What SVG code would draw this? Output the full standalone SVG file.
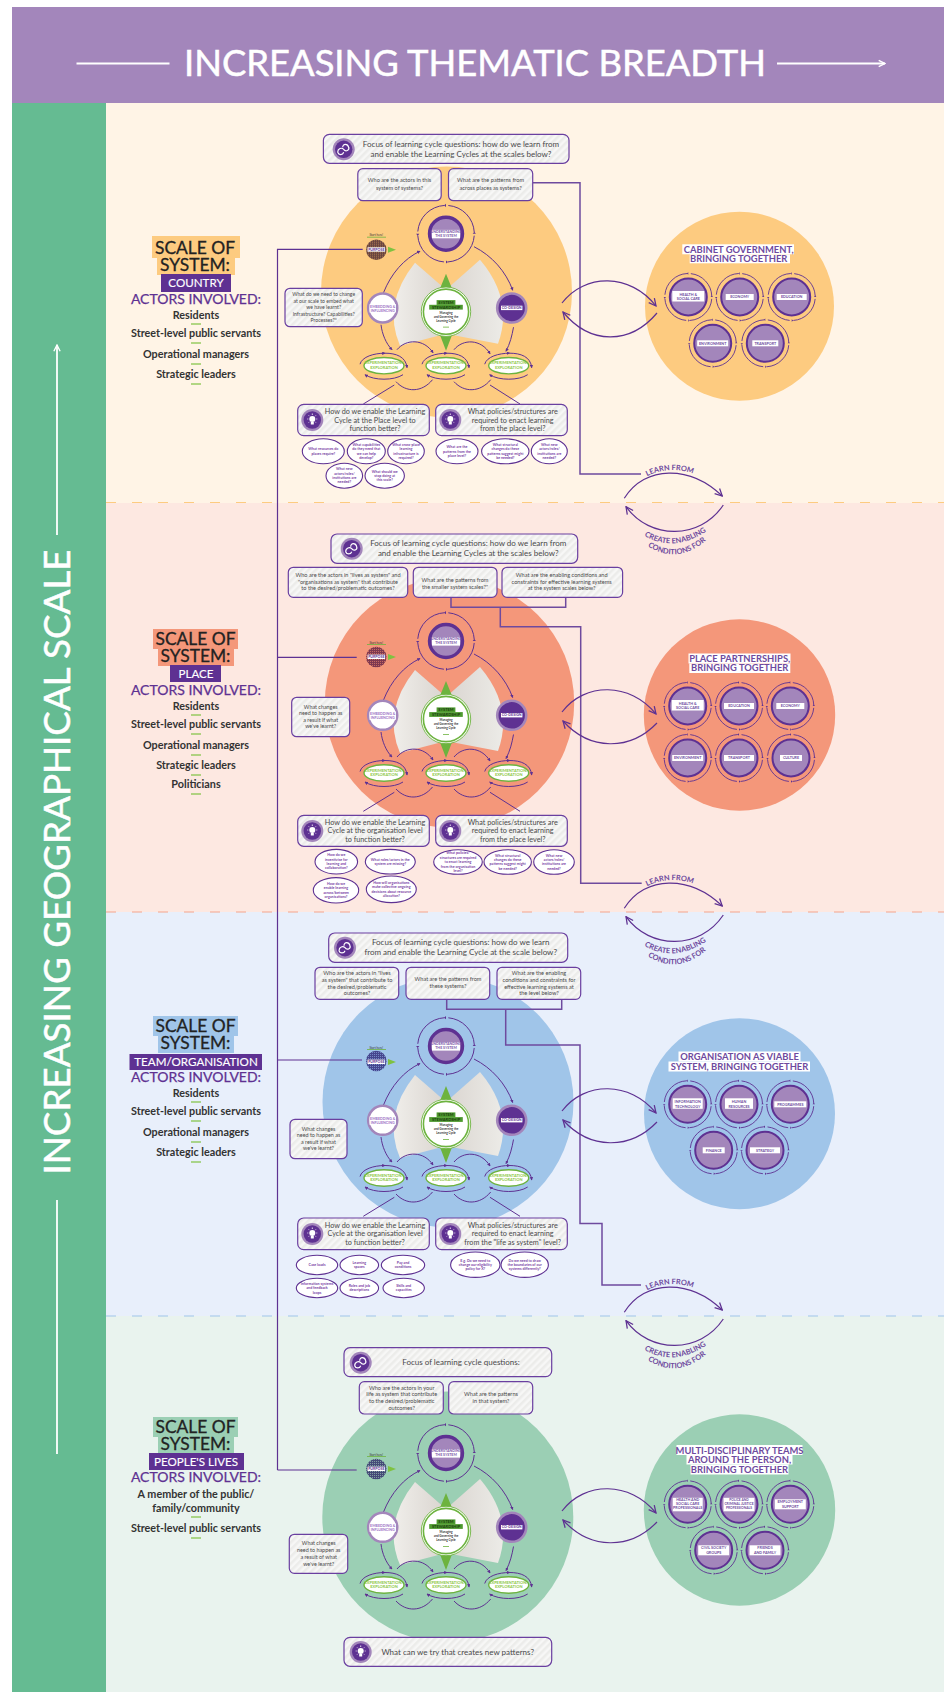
<svg xmlns="http://www.w3.org/2000/svg" width="944" height="1692" viewBox="0 0 944 1692">
<style>
text{font-family:"Lato","Noto Sans","Liberation Sans",sans-serif}
.m{text-anchor:middle}
.box{fill:url(#hatch);stroke:#6A3FA0;stroke-width:1.2}
.q{fill:#4a4a4a;text-anchor:middle}
.q8{font-size:8px}.q7{font-size:7.25px}.q6{font-size:5.6px}.q5{font-size:5.1px}.q54{font-size:5.4px}
.el ellipse{fill:#fff;stroke:#5E3192;stroke-width:1.1}
.el text{fill:#7A3FA5;font-size:3.6px;font-weight:700;text-anchor:middle}
.cn{fill:none;stroke:#5E3192;stroke-width:1.2}
.ln{fill:none;stroke:#6E4A9E;stroke-width:1.5}
.arc{fill:none;stroke:#5E3192;stroke-width:1}
.h1{font-size:17.4px;fill:#222;text-anchor:middle;stroke:#222;stroke-width:.3}
.hp{fill:#5E3192}
.h2{font-size:11.6px;fill:#fff;text-anchor:middle;stroke:#fff;stroke-width:.15}
.h3{font-size:14px;fill:#5E3192;text-anchor:middle;stroke:#5E3192;stroke-width:.25}
.act{font-size:10.8px;fill:#333;text-anchor:middle;font-weight:700}
.gd{stroke:#7FC241;stroke-width:1.2}
.rt{font-size:9.4px;font-weight:700;fill:#6E4A9E;text-anchor:middle}
.wb{fill:#fff}
.sl{font-size:3.7px;font-weight:700;fill:#6E4A9E;text-anchor:middle}
.cl{font-size:3.6px;font-weight:700;text-anchor:middle}
.ex{font-size:4px;font-weight:700;text-anchor:middle;fill:#8CC63F}
.ss{font-size:4px;font-weight:700;text-anchor:middle;fill:#1B3A10}
.lf{font-size:7.4px;fill:#6E4A9E;font-weight:700}
.hd{stroke:#fff;stroke-width:.5}
</style>
<defs>
<pattern id="hatch" patternUnits="userSpaceOnUse" width="5" height="5" patternTransform="rotate(45)"><rect width="5" height="5" fill="#F7F7F6"/><rect width="2.5" height="5" fill="#ECECEA"/></pattern>
<pattern id="p1" patternUnits="userSpaceOnUse" width="2" height="2"><rect width="2" height="2" fill="#6A4440"/><rect width="1" height="1" fill="#A87850"/></pattern>
<pattern id="p2" patternUnits="userSpaceOnUse" width="2" height="2"><rect width="2" height="2" fill="#7E3850"/><rect width="1" height="1" fill="#C46A60"/></pattern>
<pattern id="p3" patternUnits="userSpaceOnUse" width="2" height="2"><rect width="2" height="2" fill="#46468E"/><rect width="1" height="1" fill="#7388C4"/></pattern>
<pattern id="p4" patternUnits="userSpaceOnUse" width="2" height="2"><rect width="2" height="2" fill="#454A78"/><rect width="1" height="1" fill="#7F9CA0"/></pattern>
<linearGradient id="gl" x1="0" x2="1" y1="0" y2="0"><stop offset="0" stop-color="#F0EEEA"/><stop offset="1" stop-color="#D9D4CF"/></linearGradient>
<linearGradient id="gr" x1="1" x2="0" y1="0" y2="0"><stop offset="0" stop-color="#ECEBE7"/><stop offset="1" stop-color="#DAD5D0"/></linearGradient>
<marker id="oa" viewBox="0 0 10 10" refX="9" refY="5" markerWidth="9" markerHeight="9" markerUnits="userSpaceOnUse" orient="auto"><path d="M1,1 L9,5 L1,9" fill="none" stroke="#5E3192" stroke-width="1.4"/></marker>
<marker id="ta" viewBox="0 0 6 6" refX="5" refY="3" markerWidth="3.4" markerHeight="3.4" markerUnits="userSpaceOnUse" orient="auto"><path d="M0,0 L6,3 L0,6 Z" fill="#5E3192"/></marker>
<marker id="wa" viewBox="0 0 10 10" refX="9" refY="5" markerWidth="9" markerHeight="9" markerUnits="userSpaceOnUse" orient="auto"><path d="M2,1.5 L9,5 L2,8.5" fill="none" stroke="#fff" stroke-width="1.5"/></marker>
<g id="ico1"><circle r="11" fill="#A386BB"/><circle r="8.7" fill="#5E3192"/><path d="M-6,3 C-6,-1 -2,-2 0,0 C2,3 6,1 5,-2 C4,-6 -1,-6 -1,-2 M-6,3 C-5,6 -1,6 0,3" fill="none" stroke="#fff" stroke-width="1.2"/></g>
<g id="ico2"><circle r="11" fill="#A386BB"/><circle r="8.7" fill="#5E3192"/><circle cy="-1" r="3" fill="#fff"/><rect x="-1.5" y="2" width="3" height="2.5" fill="#fff"/><path d="M0,-6.5V-5M-5,-1H-4M4,-1H5M-3.6,-4.6L-2.8,-3.8M3.6,-4.6L2.8,-3.8M-3.6,2.6L-2.8,1.8M3.6,2.6L2.8,1.8" stroke="#fff" stroke-width=".8"/></g>
<g id="ring"><circle r="23.5" fill="none" stroke="#5E3192" stroke-width=".9" stroke-dasharray="33 3.9" stroke-dashoffset="-1.95"/><circle r="18.5" fill="#A386BB" stroke="#5E3192" stroke-width="2"/><path d="M23.5,-1.5l1.2,1.5h-2.4zM-23.5,1.5l-1.2,-1.5h2.4zM-1.5,-23.5l1.5,-1.2v2.4zM1.5,23.5l-1.5,1.2v-2.4z" fill="#5E3192"/></g>
<g id="exp"><ellipse rx="20" ry="8.2" fill="#fff" stroke="#6DB33F" stroke-width="1.4"/><path class="arc" marker-end="url(#ta)" d="M-24,-1.5 C-22,-9 -10,-12.5 1,-12.5"/><path class="arc" marker-end="url(#ta)" d="M1,-12.5 C12,-12.5 22,-9 23,2"/><path class="arc" marker-end="url(#ta)" d="M19,9 C10,15 -10,15 -19,9"/></g>
<g id="cycle-base">
<path d="M-31,-49 L0,-22 L0,22 L-46,34 Q-64,-8 -31,-49Z" fill="url(#gl)"/>
<path d="M34,-52 L0,-22 L0,22 L52,32 Q68,-12 34,-52Z" fill="url(#gr)"/>
<path d="M0,-38 L-6.5,-22 H6.5Z M0,39 L-6.5,22 H6.5Z" fill="#6DB33F"/>
<path class="arc" marker-end="url(#ta)" d="M-62.5,-19 C-55,-38 -42,-53 -26,-60.5"/>
<path class="arc" marker-end="url(#ta)" d="M28,-65 C46,-56 60,-40 66.7,-21.5"/>
<path class="arc" marker-end="url(#ta)" d="M-65,13 C-64,22 -60,32 -54,38"/>
<path class="arc" marker-end="url(#ta)" d="M67.5,15.5 C66,24 64,32 60,39.5"/>
<path class="arc" marker-end="url(#ta)" d="M-49,38 C-40,27 -22,27 -13,41"/>
<path class="arc" marker-end="url(#ta)" d="M8,38 C17,27 35,27 44,42"/>
<path class="arc" d="M-50,70 C-40,81 -24,81 -13.5,68"/>
<path class="arc" d="M8,70 C18,81 34,81 44.7,68"/>
<g transform="translate(0,-78)"><circle r="28.3" fill="none" stroke="#5E3192" stroke-width="1" stroke-dasharray="40.5 4" stroke-dashoffset="-2"/><circle r="16.5" fill="#A386BB" stroke="#5E3192" stroke-width="3.4"/><path d="M28.3,-2l1.6,2h-3.2zM-28.3,2l-1.6,-2h3.2zM-2,-28.3l2,-1.6v3.2zM2,28.3l-2,1.6v-3.2z" fill="#5E3192"/></g>
<circle cx="-63.3" cy="-3.7" r="14.5" fill="#fff" stroke="#A386BB" stroke-width="2.6"/>
<circle cx="65.7" cy="-3.7" r="14.5" fill="#5E3192" stroke="#A386BB" stroke-width="2.6"/>
<use href="#exp" x="-62" y="54"/><use href="#exp" x="0" y="54"/><use href="#exp" x="62.7" y="54"/>
<circle r="24.7" fill="#fff" stroke="#6DB33F" stroke-width=".9"/><circle r="22.6" fill="#fff" stroke="#6DB33F" stroke-width="1.6"/>
<rect x="-9.4" y="-11.6" width="18.8" height="4.8" fill="#4E9A2F"/><rect x="-16.8" y="-6.9" width="33.6" height="4.8" fill="#4E9A2F"/>
<rect x="-14" y="-81.8" width="28" height="8.4" class="wb"/>
<rect x="-76.5" y="-7.6" width="26.4" height="8.4" class="wb"/>
<rect x="55" y="-6" width="21.4" height="4.4" class="wb"/>
<rect x="-3" y="15" width="6" height=".8" fill="#6DB33F"/>
</g>
<g id="cycle-top"><path d="M-79,-74.5 H-60" stroke="#6DB33F" stroke-width=".8"/><path d="M-58,-65 L-50,-62 L-58,-59Z" fill="#7FC241"/><rect x="-78.5" y="-64.4" width="17.6" height="4.4" class="wb"/></g>
<path id="lf" d="M640,480 Q673,460 706,480"/>
<path id="ce1" d="M640,533 Q676,557.500 716,524"/>
<path id="ce2" d="M646,545 Q678,567 710,537"/>
</defs>

<g id="background">
<rect width="944" height="1692" fill="#fff"/>
<rect x="106" y="103" width="838" height="400" fill="#FFF4E6"/>
<rect x="106" y="503" width="838" height="409" fill="#FDE8E1"/>
<rect x="106" y="912" width="838" height="404" fill="#E8EFFB"/>
<rect x="106" y="1316" width="838" height="376" fill="#E9F3EE"/>
<path d="M106,502.5H944" stroke="#FDCB80" stroke-width="1" stroke-dasharray="10 16"/>
<path d="M106,912H944" stroke="#F4A58C" stroke-width="1" stroke-dasharray="10 16"/>
<path d="M106,1316H944" stroke="#A0C5E9" stroke-width="1" stroke-dasharray="10 16"/>
<rect x="12" y="103" width="94" height="1589" fill="#65BB92"/>
<rect x="12" y="7" width="932" height="96" fill="#A386BB"/>
</g>

<g id="header-thematic">
<path d="M76.5,63.5H169.5" stroke="#fff" stroke-width="1.8"/>
<text x="475" y="76" class="m hd" font-size="36" fill="#fff" textLength="582" lengthAdjust="spacingAndGlyphs">INCREASING THEMATIC BREADTH</text>
<path d="M777,63.5H885" stroke="#fff" stroke-width="1.8" marker-end="url(#wa)"/>
</g>
<g id="header-geographical">
<path d="M57,1454V1200M57,535V345" stroke="#fff" stroke-width="1.8" marker-end="url(#wa)"/>
<text transform="translate(70,862) rotate(-90)" class="m hd" font-size="36" fill="#fff" textLength="625" lengthAdjust="spacingAndGlyphs">INCREASING GEOGRAPHICAL SCALE</text>
</g>

<g id="big-circles">
<circle cx="446.5" cy="292" r="125.5" fill="#FDCB80"/>
<circle cx="449.5" cy="703" r="124.7" fill="#F4977A"/>
<circle cx="448" cy="1102" r="125.5" fill="#A0C5E9"/>
<circle cx="447.8" cy="1517" r="125.5" fill="#9BCFB4"/>
<circle cx="739.5" cy="306.3" r="94.5" fill="#FDCB80"/>
<circle cx="739.5" cy="715" r="95.7" fill="#F4977A"/>
<circle cx="739.5" cy="1113.7" r="95.5" fill="#A0C5E9"/>
<circle cx="739.5" cy="1510" r="95.7" fill="#9BCFB4"/>
</g>

<g id="connectors">
<path class="cn" d="M277.5,1470V249.3H362.7M277.5,657.3H356.7M277.5,1060H362M277.5,1470H356.7"/>
<path class="ln" d="M533,182.7H580V474H641"/>
<path class="ln" d="M451,597.3V607.3H565.7V597.3M500.3,607.3V626.7H580.7V883.3H641.7"/>
<path class="ln" d="M446.7,999.3V1009.3H561.7V999.3M505.7,1009.3V1045H580V1223.5H602V1285H641"/>
<g id="two-way-country"><path class="cn" marker-end="url(#oa)" d="M562,303 C585,273 630,273 656,306"/><path class="cn" marker-end="url(#oa)" d="M657,313 C630,345 590,345 563,312"/></g>
<g id="two-way-place"><path class="cn" marker-end="url(#oa)" d="M562,712 C585,682 630,682 656,714"/><path class="cn" marker-end="url(#oa)" d="M657,723 C630,751 590,751 563,721"/></g>
<g id="two-way-team"><path class="cn" marker-end="url(#oa)" d="M562,1111 C585,1081 630,1081 656,1113"/><path class="cn" marker-end="url(#oa)" d="M657,1122 C630,1150 590,1150 563,1120"/></g>
<g id="two-way-people"><path class="cn" marker-end="url(#oa)" d="M562,1511 C585,1481 630,1481 656,1513"/><path class="cn" marker-end="url(#oa)" d="M657,1522 C630,1550 590,1550 563,1520"/></g>
<g id="learn-country"><path class="cn" marker-end="url(#oa)" d="M624.3,498.3 C645,465 690,465 722.3,496"/><path class="cn" marker-end="url(#oa)" d="M723.3,505 C700,540 650,540 626,506.7"/></g>
<g id="learn-place" transform="translate(0,410)"><path class="cn" marker-end="url(#oa)" d="M624.3,498.3 C645,465 690,465 722.3,496"/><path class="cn" marker-end="url(#oa)" d="M723.3,505 C700,540 650,540 626,506.7"/></g>
<g id="learn-team" transform="translate(0,814)"><path class="cn" marker-end="url(#oa)" d="M624.3,498.3 C645,465 690,465 722.3,496"/><path class="cn" marker-end="url(#oa)" d="M723.3,505 C700,540 650,540 626,506.7"/></g>
<g id="labels-country"><text class="lf"><textPath href="#lf" startOffset="8">LEARN FROM</textPath></text><text class="lf"><textPath href="#ce1" startOffset="5">CREATE ENABLING</textPath></text><text class="lf"><textPath href="#ce2" startOffset="2">CONDITIONS FOR</textPath></text></g>
<g id="labels-place" transform="translate(0,410)"><text class="lf"><textPath href="#lf" startOffset="8">LEARN FROM</textPath></text><text class="lf"><textPath href="#ce1" startOffset="5">CREATE ENABLING</textPath></text><text class="lf"><textPath href="#ce2" startOffset="2">CONDITIONS FOR</textPath></text></g>
<g id="labels-team" transform="translate(0,814)"><text class="lf"><textPath href="#lf" startOffset="8">LEARN FROM</textPath></text><text class="lf"><textPath href="#ce1" startOffset="5">CREATE ENABLING</textPath></text><text class="lf"><textPath href="#ce2" startOffset="2">CONDITIONS FOR</textPath></text></g>
</g>

<g id="scale-country">
<rect x="152" y="236" width="88" height="22" fill="#FDCB80"/><rect x="157" y="258" width="78" height="17" fill="#FDCB80"/>
<text x="195" y="254" class="h1">SCALE OF</text><text x="195" y="271" class="h1">SYSTEM:</text>
<rect x="161" y="274" width="70" height="18" class="hp"/><text x="196" y="287" class="h2">COUNTRY</text>
<text x="196" y="304" class="h3">ACTORS INVOLVED:</text>
<text x="196" y="319" class="act">Residents</text><path class="gd" d="M191,324H201"/>
<text x="196" y="337" class="act">Street-level public servants</text><path class="gd" d="M191,343H201"/>
<text x="196" y="358" class="act">Operational managers</text><path class="gd" d="M191,364H201"/>
<text x="196" y="378" class="act">Strategic leaders</text><path class="gd" d="M191,384H201"/>
</g>
<g id="scale-place">
<rect x="153" y="629" width="85" height="20" fill="#F4977A"/><rect x="158" y="649" width="76" height="17" fill="#F4977A"/>
<text x="195.500" y="645" class="h1">SCALE OF</text><text x="195.500" y="662" class="h1">SYSTEM:</text>
<rect x="170" y="665" width="51" height="17" class="hp"/><text x="196" y="678" class="h2">PLACE</text>
<text x="196" y="695" class="h3">ACTORS INVOLVED:</text>
<text x="196" y="710" class="act">Residents</text><path class="gd" d="M191,715H201"/>
<text x="196" y="728" class="act">Street-level public servants</text><path class="gd" d="M191,734H201"/>
<text x="196" y="749" class="act">Operational managers</text><path class="gd" d="M191,755H201"/>
<text x="196" y="769" class="act">Strategic leaders</text><path class="gd" d="M191,775H201"/>
<text x="196" y="788" class="act">Politicians</text><path class="gd" d="M191,794H201"/>
</g>
<g id="scale-team">
<rect x="153" y="1016" width="85" height="20" fill="#A0C5E9"/><rect x="158" y="1036" width="76" height="17" fill="#A0C5E9"/>
<text x="195.500" y="1032" class="h1">SCALE OF</text><text x="195.500" y="1049" class="h1">SYSTEM:</text>
<rect x="129.500" y="1054" width="132.500" height="16" class="hp"/><text x="196" y="1066" class="h2">TEAM/ORGANISATION</text>
<text x="196" y="1082" class="h3">ACTORS INVOLVED:</text>
<text x="196" y="1097" class="act">Residents</text><path class="gd" d="M191,1102H201"/>
<text x="196" y="1115" class="act">Street-level public servants</text><path class="gd" d="M191,1121H201"/>
<text x="196" y="1136" class="act">Operational managers</text><path class="gd" d="M191,1142H201"/>
<text x="196" y="1156" class="act">Strategic leaders</text><path class="gd" d="M191,1162H201"/>
</g>
<g id="scale-people">
<rect x="153" y="1417" width="85" height="20" fill="#9BCFB4"/><rect x="158" y="1437" width="76" height="17" fill="#9BCFB4"/>
<text x="195.500" y="1433" class="h1">SCALE OF</text><text x="195.500" y="1450" class="h1">SYSTEM:</text>
<rect x="149" y="1453" width="95" height="17" class="hp"/><text x="196" y="1466" class="h2">PEOPLE'S LIVES</text>
<text x="196" y="1482" class="h3">ACTORS INVOLVED:</text>
<text x="196" y="1498" class="act">A member of the public/</text>
<text x="196" y="1512" class="act">family/community</text><path class="gd" d="M191,1517H201"/>
<text x="196" y="1532" class="act">Street-level public servants</text><path class="gd" d="M191,1538H201"/>
</g>

<g id="cycle-country" transform="translate(446,311.7)"><path class="arc" d="M-51.7,73.3 L-82.7,92.3 M44,73.3 L74,92.3"/><use href="#cycle-base"/><circle cx="-69.700" cy="-62" r="10.300" fill="url(#p1)"/><use href="#cycle-top"/>
<text x="-69.700" y="-75.500" class="m" font-size="3" fill="#333">Start here!</text><text x="-69.700" y="-60.900" class="cl" fill="#5E3192">PURPOSE</text>
<text y="-78.800" class="cl" fill="#7A55A8"><tspan x="0">UNDERSTANDING</tspan><tspan x="0" y="-74.800">THE SYSTEM</tspan></text>
<text y="-3.800" class="cl" fill="#9C72C5"><tspan x="-63.300">EMBEDDING &amp;</tspan><tspan x="-63.300" y="0">INFLUENCING</tspan></text>
<text x="65.700" y="-2.600" class="cl" fill="#5E3192">CO-DESIGN</text>
<text y="52.700" class="ex"><tspan x="-62">EXPERIMENTATION/</tspan><tspan x="-62" y="56.900">EXPLORATION</tspan></text>
<text y="52.700" class="ex"><tspan x="0">EXPERIMENTATION/</tspan><tspan x="0" y="56.900">EXPLORATION</tspan></text>
<text y="52.700" class="ex"><tspan x="62.700">EXPERIMENTATION/</tspan><tspan x="62.700" y="56.900">EXPLORATION</tspan></text>
<text y="-7.900" class="ss"><tspan x="0">SYSTEM</tspan><tspan x="0" y="-3.100">STEWARDSHIP</tspan></text>
<text y="2.300" class="m" font-size="3" fill="#333" font-weight="700"><tspan x="0">Managing</tspan><tspan x="0" y="6.300">and Governing the</tspan><tspan x="0" y="10.300">Learning Cycle</tspan></text></g>

<g id="cycle-place" transform="translate(446,719)"><path class="arc" d="M-51.7,73.3 L-82.7,92.3 M44,73.3 L74,92.3"/><use href="#cycle-base"/><circle cx="-69.700" cy="-62" r="10.300" fill="url(#p2)"/><use href="#cycle-top"/>
<text x="-69.700" y="-75.500" class="m" font-size="3" fill="#333">Start here!</text><text x="-69.700" y="-60.900" class="cl" fill="#5E3192">PURPOSE</text>
<text y="-78.800" class="cl" fill="#7A55A8"><tspan x="0">UNDERSTANDING</tspan><tspan x="0" y="-74.800">THE SYSTEM</tspan></text>
<text y="-3.800" class="cl" fill="#9C72C5"><tspan x="-63.300">EMBEDDING &amp;</tspan><tspan x="-63.300" y="0">INFLUENCING</tspan></text>
<text x="65.700" y="-2.600" class="cl" fill="#5E3192">CO-DESIGN</text>
<text y="52.700" class="ex"><tspan x="-62">EXPERIMENTATION/</tspan><tspan x="-62" y="56.900">EXPLORATION</tspan></text>
<text y="52.700" class="ex"><tspan x="0">EXPERIMENTATION/</tspan><tspan x="0" y="56.900">EXPLORATION</tspan></text>
<text y="52.700" class="ex"><tspan x="62.700">EXPERIMENTATION/</tspan><tspan x="62.700" y="56.900">EXPLORATION</tspan></text>
<text y="-7.900" class="ss"><tspan x="0">SYSTEM</tspan><tspan x="0" y="-3.100">STEWARDSHIP</tspan></text>
<text y="2.300" class="m" font-size="3" fill="#333" font-weight="700"><tspan x="0">Managing</tspan><tspan x="0" y="6.300">and Governing the</tspan><tspan x="0" y="10.300">Learning Cycle</tspan></text></g>

<g id="cycle-team" transform="translate(446,1124)"><path class="arc" d="M-51.7,73.3 L-82.7,92.3 M44,73.3 L74,92.3"/><use href="#cycle-base"/><circle cx="-69.700" cy="-63" r="10.300" fill="url(#p3)"/><use href="#cycle-top"/>
<text x="-69.700" y="-75.500" class="m" font-size="3" fill="#333">Start here!</text><text x="-69.700" y="-60.900" class="cl" fill="#5E3192">PURPOSE</text>
<text y="-78.800" class="cl" fill="#7A55A8"><tspan x="0">UNDERSTANDING</tspan><tspan x="0" y="-74.800">THE SYSTEM</tspan></text>
<text y="-3.800" class="cl" fill="#9C72C5"><tspan x="-63.300">EMBEDDING &amp;</tspan><tspan x="-63.300" y="0">INFLUENCING</tspan></text>
<text x="65.700" y="-2.600" class="cl" fill="#5E3192">CO-DESIGN</text>
<text y="52.700" class="ex"><tspan x="-62">EXPERIMENTATION/</tspan><tspan x="-62" y="56.900">EXPLORATION</tspan></text>
<text y="52.700" class="ex"><tspan x="0">EXPERIMENTATION/</tspan><tspan x="0" y="56.900">EXPLORATION</tspan></text>
<text y="52.700" class="ex"><tspan x="62.700">EXPERIMENTATION/</tspan><tspan x="62.700" y="56.900">EXPLORATION</tspan></text>
<text y="-7.900" class="ss"><tspan x="0">SYSTEM</tspan><tspan x="0" y="-3.100">STEWARDSHIP</tspan></text>
<text y="2.300" class="m" font-size="3" fill="#333" font-weight="700"><tspan x="0">Managing</tspan><tspan x="0" y="6.300">and Governing the</tspan><tspan x="0" y="10.300">Learning Cycle</tspan></text></g>

<g id="cycle-people" transform="translate(446,1531)"><use href="#cycle-base"/><circle cx="-69.700" cy="-62" r="10.300" fill="url(#p4)"/><use href="#cycle-top"/>
<text x="-69.700" y="-75.500" class="m" font-size="3" fill="#333">Start here!</text><text x="-69.700" y="-60.900" class="cl" fill="#5E3192">PURPOSE</text>
<text y="-78.800" class="cl" fill="#7A55A8"><tspan x="0">UNDERSTANDING</tspan><tspan x="0" y="-74.800">THE SYSTEM</tspan></text>
<text y="-3.800" class="cl" fill="#9C72C5"><tspan x="-63.300">EMBEDDING &amp;</tspan><tspan x="-63.300" y="0">INFLUENCING</tspan></text>
<text x="65.700" y="-2.600" class="cl" fill="#5E3192">CO-DESIGN</text>
<text y="52.700" class="ex"><tspan x="-62">EXPERIMENTATION/</tspan><tspan x="-62" y="56.900">EXPLORATION</tspan></text>
<text y="52.700" class="ex"><tspan x="0">EXPERIMENTATION/</tspan><tspan x="0" y="56.900">EXPLORATION</tspan></text>
<text y="52.700" class="ex"><tspan x="62.700">EXPERIMENTATION/</tspan><tspan x="62.700" y="56.900">EXPLORATION</tspan></text>
<text y="-7.900" class="ss"><tspan x="0">SYSTEM</tspan><tspan x="0" y="-3.100">STEWARDSHIP</tspan></text>
<text y="2.300" class="m" font-size="3" fill="#333" font-weight="700"><tspan x="0">Managing</tspan><tspan x="0" y="6.300">and Governing the</tspan><tspan x="0" y="10.300">Learning Cycle</tspan></text></g>

<g id="team-country">
<rect x="682.300" y="244.300" width="111.700" height="10" class="wb"/><rect x="689.700" y="254.300" width="100.300" height="9" class="wb"/>
<text x="738.700" y="253" class="rt">CABINET GOVERNMENT,</text><text x="738.700" y="262.300" class="rt">BRINGING TOGETHER</text>
<g transform="translate(688.300,297)"><use href="#ring"/><rect x="-16" y="-6" width="32" height="10.500" class="wb"/><text class="sl" y="-1.200"><tspan x="0">HEALTH &amp;</tspan><tspan x="0" y="3.200">SOCIAL CARE</tspan></text></g>
<g transform="translate(739.700,297)"><use href="#ring"/><rect x="-14" y="-3" width="28" height="6" class="wb"/><text class="sl" y="1.300">ECONOMY</text></g>
<g transform="translate(791.700,297)"><use href="#ring"/><rect x="-15" y="-3" width="30" height="6" class="wb"/><text class="sl" y="1.300">EDUCATION</text></g>
<g transform="translate(712.700,343.300)"><use href="#ring"/><rect x="-15.500" y="-3" width="31" height="6" class="wb"/><text class="sl" y="1.300">ENVIRONMENT</text></g>
<g transform="translate(765.300,343.300)"><use href="#ring"/><rect x="-13" y="-3" width="26" height="6" class="wb"/><text class="sl" y="1.300">TRANSPORT</text></g>
</g>
<g id="team-place">
<rect x="688.500" y="653.500" width="102" height="10" class="wb"/><rect x="689.300" y="663.500" width="101" height="9.500" class="wb"/>
<text x="739.700" y="662.300" class="rt">PLACE PARTNERSHIPS,</text><text x="739.700" y="671.300" class="rt">BRINGING TOGETHER</text>
<g transform="translate(687.700,706)"><use href="#ring"/><rect x="-16" y="-6" width="32" height="10.500" class="wb"/><text class="sl" y="-1.200"><tspan x="0">HEALTH &amp;</tspan><tspan x="0" y="3.200">SOCIAL CARE</tspan></text></g>
<g transform="translate(739,706)"><use href="#ring"/><rect x="-15" y="-3" width="30" height="6" class="wb"/><text class="sl" y="1.300">EDUCATION</text></g>
<g transform="translate(790.300,706)"><use href="#ring"/><rect x="-14" y="-3" width="28" height="6" class="wb"/><text class="sl" y="1.300">ECONOMY</text></g>
<g transform="translate(687.700,758)"><use href="#ring"/><rect x="-15.500" y="-3" width="31" height="6" class="wb"/><text class="sl" y="1.300">ENVIRONMENT</text></g>
<g transform="translate(739,758)"><use href="#ring"/><rect x="-15" y="-3" width="30" height="6" class="wb"/><text class="sl" y="1.300">TRANSPORT</text></g>
<g transform="translate(791,758)"><use href="#ring"/><rect x="-11" y="-3" width="22" height="6" class="wb"/><text class="sl" y="1.300">CULTURE</text></g>
</g>
<g id="team-team">
<rect x="678.500" y="1051.500" width="122" height="10" class="wb"/><rect x="668.500" y="1061.500" width="141.500" height="10" class="wb"/>
<text x="739.500" y="1060" class="rt">ORGANISATION AS VIABLE</text><text x="739.500" y="1070" class="rt">SYSTEM, BRINGING TOGETHER</text>
<g transform="translate(687.700,1104.300)"><use href="#ring"/><rect x="-15" y="-6" width="30" height="10.500" class="wb"/><text class="sl" y="-1.200"><tspan x="0">INFORMATION</tspan><tspan x="0" y="3.200">TECHNOLOGY</tspan></text></g>
<g transform="translate(739,1104.300)"><use href="#ring"/><rect x="-14" y="-6" width="28" height="10.500" class="wb"/><text class="sl" y="-1.200"><tspan x="0">HUMAN</tspan><tspan x="0" y="3.200">RESOURCES</tspan></text></g>
<g transform="translate(790.300,1104.300)"><use href="#ring"/><rect x="-16" y="-3" width="32" height="6" class="wb"/><text class="sl" y="1.300">PROGRAMMES</text></g>
<g transform="translate(713.700,1150.300)"><use href="#ring"/><rect x="-11" y="-3" width="22" height="6" class="wb"/><text class="sl" y="1.300">FINANCE</text></g>
<g transform="translate(765,1150.300)"><use href="#ring"/><rect x="-15" y="-3" width="30" height="6" class="wb"/><text class="sl" y="1.300">STRATEGY</text></g>
</g>
<g id="team-people">
<rect x="676.500" y="1445" width="126" height="10" class="wb"/><rect x="686.500" y="1455" width="106" height="9.500" class="wb"/><rect x="690.500" y="1464.500" width="98" height="10" class="wb"/>
<text x="739.500" y="1454" class="rt">MULTI-DISCIPLINARY TEAMS</text><text x="739.500" y="1463.300" class="rt">AROUND THE PERSON,</text><text x="739.500" y="1473" class="rt">BRINGING TOGETHER</text>
<g transform="translate(687.700,1504.300)"><use href="#ring"/><rect x="-15" y="-6.500" width="30" height="13.500" class="wb"/><text class="sl" y="-3"><tspan x="0">HEALTH AND</tspan><tspan x="0" y="1">SOCIAL CARE</tspan><tspan x="0" y="5">PROFESSIONALS</tspan></text></g>
<g transform="translate(739,1504.300)"><use href="#ring"/><rect x="-15.500" y="-6.500" width="31" height="13.500" class="wb"/><text class="sl" y="-3" style="font-size:3.3px"><tspan x="0">POLICE AND</tspan><tspan x="0" y="1">CRIMINAL JUSTICE</tspan><tspan x="0" y="5">PROFESSIONALS</tspan></text></g>
<g transform="translate(790.300,1504.300)"><use href="#ring"/><rect x="-15.500" y="-5" width="31" height="10" class="wb"/><text class="sl" y="-1"><tspan x="0">EMPLOYMENT</tspan><tspan x="0" y="3.400">SUPPORT</tspan></text></g>
<g transform="translate(713.700,1550.300)"><use href="#ring"/><rect x="-15.500" y="-5" width="31" height="10" class="wb"/><text class="sl" y="-1"><tspan x="0">CIVIL SOCIETY</tspan><tspan x="0" y="3.400">GROUPS</tspan></text></g>
<g transform="translate(765,1550.300)"><use href="#ring"/><rect x="-15.500" y="-5" width="31" height="10" class="wb"/><text class="sl" y="-1"><tspan x="0">FRIENDS</tspan><tspan x="0" y="3.400">AND FAMILY</tspan></text></g>
</g>

<g id="focus-country"><rect x="323.400" y="134.300" width="245.600" height="29" rx="6" class="box"/><use href="#ico1" x="343.700" y="149.300"/>
<text class="q q8"><tspan x="461" y="146.700">Focus of learning cycle questions: how do we learn from</tspan><tspan x="461" y="156.700">and enable the Learning Cycles at the scales below?</tspan></text></g>
<g id="q-country-1"><rect x="357.800" y="168.700" width="83.400" height="32" rx="5" class="box"/><text class="q q6"><tspan x="399.500" y="182.300">Who are the actors in this</tspan><tspan x="399.500" y="189.700">system of systems?</tspan></text></g>
<g id="q-country-2"><rect x="448.500" y="168.700" width="84.200" height="32" rx="5" class="box"/><text class="q q6"><tspan x="490.600" y="182.300">What are the patterns from</tspan><tspan x="490.600" y="189.700">across places as systems?</tspan></text></g>
<g id="change-country"><rect x="285" y="288.300" width="77.300" height="38.400" rx="5" class="box"/><text class="q q5"><tspan x="323.700" y="296.300">What do we need to change</tspan><tspan x="323.700" y="302.700">at our scale to embed what</tspan><tspan x="323.700" y="309.300">we have learnt?</tspan><tspan x="323.700" y="315.700">Infrastructure? Capabilities?</tspan><tspan x="323.700" y="321.700">Processes?*</tspan></text></g>
<g id="enable-country"><rect x="297.700" y="404.300" width="131.600" height="31.400" rx="6" class="box"/><use href="#ico2" x="312.300" y="420"/><text class="q q7"><tspan x="375" y="414">How do we enable the Learning</tspan><tspan x="375" y="422.700">Cycle at the Place level to</tspan><tspan x="375" y="431">function better?</tspan></text></g>
<g id="policy-country"><rect x="435.700" y="404.300" width="131.600" height="31.400" rx="6" class="box"/><use href="#ico2" x="450.300" y="420"/><text class="q q7"><tspan x="512.700" y="414">What policies/structures are</tspan><tspan x="512.700" y="422.700">required to enact learning</tspan><tspan x="512.700" y="431">from the place level?</tspan></text></g>
<g id="ellipses-country" class="el">
<g transform="translate(323.300,451.300)"><ellipse rx="21" ry="12.500"/><text><tspan x="0" y="-1">What resources do</tspan><tspan x="0" y="3.400">places require?</tspan></text></g>
<g transform="translate(366.300,451.300)"><ellipse rx="19" ry="12.500"/><text><tspan x="0" y="-5.400">What capabilities</tspan><tspan x="0" y="-1">do they need that</tspan><tspan x="0" y="3.400">we can help</tspan><tspan x="0" y="7.800">develop?</tspan></text></g>
<g transform="translate(406,451.300)"><ellipse rx="18.300" ry="12.500"/><text><tspan x="0" y="-5.400">What cross-place</tspan><tspan x="0" y="-1">learning</tspan><tspan x="0" y="3.400">infrastructure is</tspan><tspan x="0" y="7.800">required?</tspan></text></g>
<g transform="translate(344.300,475.700)"><ellipse rx="18.300" ry="12.500"/><text><tspan x="0" y="-5.400">What new</tspan><tspan x="0" y="-1">actors/roles/</tspan><tspan x="0" y="3.400">institutions are</tspan><tspan x="0" y="7.800">needed?</tspan></text></g>
<g transform="translate(384.700,475.700)"><ellipse rx="19.700" ry="12.500"/><text><tspan x="0" y="-3.200">What should we</tspan><tspan x="0" y="1.200">stop doing at</tspan><tspan x="0" y="5.600">this scale?</tspan></text></g>
<g transform="translate(457,451.300)"><ellipse rx="21" ry="12.500"/><text><tspan x="0" y="-3.200">What are the</tspan><tspan x="0" y="1.200">patterns from the</tspan><tspan x="0" y="5.600">place level?</tspan></text></g>
<g transform="translate(505.300,451.300)"><ellipse rx="23.700" ry="12.500"/><text><tspan x="0" y="-5.400">What structural</tspan><tspan x="0" y="-1">changes do these</tspan><tspan x="0" y="3.400">patterns suggest might</tspan><tspan x="0" y="7.800">be needed?</tspan></text></g>
<g transform="translate(549.300,451.300)"><ellipse rx="18" ry="12.500"/><text><tspan x="0" y="-5.400">What new</tspan><tspan x="0" y="-1">actors/roles/</tspan><tspan x="0" y="3.400">institutions are</tspan><tspan x="0" y="7.800">needed?</tspan></text></g>
</g>

<g id="focus-place"><rect x="331" y="534" width="246.700" height="29.300" rx="6" class="box"/><use href="#ico1" x="351.700" y="548.700"/>
<text class="q q8"><tspan x="468.300" y="546">Focus of learning cycle questions: how do we learn from</tspan><tspan x="468.300" y="556">and enable the Learning Cycles at the scales below?</tspan></text></g>
<g id="q-place-1"><rect x="288.300" y="567.300" width="119.400" height="30" rx="5" class="box"/><text class="q q6"><tspan x="348" y="576.700">Who are the actors in "lives as system" and</tspan><tspan x="348" y="583.700">"organisations as system" that contribute</tspan><tspan x="348" y="589.700">to the desired/problematic outcomes?</tspan></text></g>
<g id="q-place-2"><rect x="413.300" y="567.300" width="83.700" height="30" rx="5" class="box"/><text class="q q6"><tspan x="455" y="581.700">What are the patterns from</tspan><tspan x="455" y="588.700">the smaller system scales?"</tspan></text></g>
<g id="q-place-3"><rect x="502" y="567.300" width="120.600" height="30" rx="5" class="box"/><text class="q q6"><tspan x="561.700" y="576.700">What are the enabling conditions and</tspan><tspan x="561.700" y="583.700">constraints for effective learning systems</tspan><tspan x="561.700" y="589.700">at the system scales below?</tspan></text></g>
<g id="change-place"><rect x="291.700" y="697.300" width="58" height="39.400" rx="5" class="box"/><text class="q q54"><tspan x="320.700" y="708.700">What changes</tspan><tspan x="320.700" y="714.700">need to happen as</tspan><tspan x="320.700" y="721.700">a result if what</tspan><tspan x="320.700" y="728.300">we've learnt?</tspan></text></g>
<g id="enable-place"><rect x="297.700" y="815.300" width="131.600" height="31" rx="6" class="box"/><use href="#ico2" x="312.300" y="831"/><text class="q q7"><tspan x="375" y="825">How do we enable the Learning</tspan><tspan x="375" y="833.300">Cycle at the organisation level</tspan><tspan x="375" y="841.700">to function better?</tspan></text></g>
<g id="policy-place"><rect x="435.700" y="815.300" width="131.600" height="31" rx="6" class="box"/><use href="#ico2" x="450.300" y="831"/><text class="q q7"><tspan x="512.700" y="825">What policies/structures are</tspan><tspan x="512.700" y="833.300">required to enact learning</tspan><tspan x="512.700" y="841.700">from the place level?</tspan></text></g>
<g id="ellipses-place" class="el">
<g transform="translate(336.300,861.700)"><ellipse rx="21.300" ry="12.300"/><text><tspan x="0" y="-5.400">How do we</tspan><tspan x="0" y="-1">incentivise for</tspan><tspan x="0" y="3.400">learning and</tspan><tspan x="0" y="7.800">collaboration?</tspan></text></g>
<g transform="translate(390.300,861.700)"><ellipse rx="25" ry="12.300"/><text><tspan x="0" y="-1">What roles/actors in the</tspan><tspan x="0" y="3.400">system are missing?</tspan></text></g>
<g transform="translate(336,890.300)"><ellipse rx="22.700" ry="12.700"/><text><tspan x="0" y="-5.400">How do we</tspan><tspan x="0" y="-1">enable learning</tspan><tspan x="0" y="3.400">across/between</tspan><tspan x="0" y="7.800">organisations?</tspan></text></g>
<g transform="translate(391.300,889.300)"><ellipse rx="25" ry="13.300"/><text><tspan x="0" y="-5.400">How will organisations</tspan><tspan x="0" y="-1">make collective ongoing</tspan><tspan x="0" y="3.400">decisions about resource</tspan><tspan x="0" y="7.800">allocation?</tspan></text></g>
<g transform="translate(458,862)"><ellipse rx="24.300" ry="12.300"/><text><tspan x="0" y="-7.600">What policies/</tspan><tspan x="0" y="-3.200">structures are required</tspan><tspan x="0" y="1.200">to enact learning</tspan><tspan x="0" y="5.600">from the organisation</tspan><tspan x="0" y="10">level?</tspan></text></g>
<g transform="translate(507.700,862)"><ellipse rx="23.700" ry="12.300"/><text><tspan x="0" y="-5.400">What structural</tspan><tspan x="0" y="-1">changes do these</tspan><tspan x="0" y="3.400">patterns suggest might</tspan><tspan x="0" y="7.800">be needed?</tspan></text></g>
<g transform="translate(554,862)"><ellipse rx="20.300" ry="12.300"/><text><tspan x="0" y="-5.400">What new</tspan><tspan x="0" y="-1">actors/roles/</tspan><tspan x="0" y="3.400">institutions are</tspan><tspan x="0" y="7.800">needed?</tspan></text></g>
</g>

<g id="focus-team"><rect x="328.700" y="933" width="239" height="29.300" rx="6" class="box"/><use href="#ico1" x="345" y="947.700"/>
<text class="q q8"><tspan x="460.700" y="945">Focus of learning cycle questions: how do we learn</tspan><tspan x="460.700" y="955">from and enable the Learning Cycle at the scale below?</tspan></text></g>
<g id="q-team-1"><rect x="315" y="967.300" width="83.700" height="32" rx="5" class="box"/><text class="q q6"><tspan x="357" y="974.700">Who are the actors in "lives</tspan><tspan x="357" y="982">as system" that contribute to</tspan><tspan x="357" y="989">the desired/problematic</tspan><tspan x="357" y="995">outcomes?</tspan></text></g>
<g id="q-team-2"><rect x="406" y="967.300" width="83.700" height="32" rx="5" class="box"/><text class="q q6"><tspan x="448" y="980.700">What are the patterns from</tspan><tspan x="448" y="988">these systems?</tspan></text></g>
<g id="q-team-3"><rect x="497" y="967.300" width="83.700" height="32" rx="5" class="box"/><text class="q q6"><tspan x="539" y="974.700">What are the enabling</tspan><tspan x="539" y="982">conditions and constraints for</tspan><tspan x="539" y="989">effective learning systems at</tspan><tspan x="539" y="995">the level below?</tspan></text></g>
<g id="change-team"><rect x="290" y="1119.300" width="57" height="39.400" rx="5" class="box"/><text class="q q54"><tspan x="318.500" y="1130.700">What changes</tspan><tspan x="318.500" y="1136.700">need to happen as</tspan><tspan x="318.500" y="1143.700">a result if what</tspan><tspan x="318.500" y="1150.300">we've learnt?</tspan></text></g>
<g id="enable-team"><rect x="297.700" y="1218" width="131.600" height="31.700" rx="6" class="box"/><use href="#ico2" x="312.300" y="1234"/><text class="q q7"><tspan x="375" y="1228">How do we enable the Learning</tspan><tspan x="375" y="1236">Cycle at the organisation level</tspan><tspan x="375" y="1244.700">to function better?</tspan></text></g>
<g id="policy-team"><rect x="435.700" y="1218" width="131.600" height="31.700" rx="6" class="box"/><use href="#ico2" x="450.300" y="1234"/><text class="q q7"><tspan x="512.700" y="1228">What policies/structures are</tspan><tspan x="512.700" y="1236">required to enact learning</tspan><tspan x="512.700" y="1244.700">from the "life as system" level?</tspan></text></g>
<g id="ellipses-team" class="el">
<g transform="translate(317,1265)"><ellipse rx="20.700" ry="9.700"/><text y="1.200" x="0">Case loads</text></g>
<g transform="translate(359.300,1265)"><ellipse rx="19.300" ry="9.700"/><text><tspan x="0" y="-1">Learning</tspan><tspan x="0" y="3.400">spaces</tspan></text></g>
<g transform="translate(403,1265)"><ellipse rx="21.700" ry="9.700"/><text><tspan x="0" y="-1">Pay and</tspan><tspan x="0" y="3.400">conditions</tspan></text></g>
<g transform="translate(317,1288)"><ellipse rx="20.700" ry="9.700"/><text><tspan x="0" y="-3.200">Information systems</tspan><tspan x="0" y="1.200">and feedback</tspan><tspan x="0" y="5.600">loops</tspan></text></g>
<g transform="translate(359.300,1288)"><ellipse rx="19.300" ry="9.700"/><text><tspan x="0" y="-1">Roles and job</tspan><tspan x="0" y="3.400">descriptions</tspan></text></g>
<g transform="translate(403.700,1288)"><ellipse rx="20.700" ry="9.700"/><text><tspan x="0" y="-1">Skills and</tspan><tspan x="0" y="3.400">capacities</tspan></text></g>
<g transform="translate(475.300,1264.700)"><ellipse rx="24.700" ry="12.700"/><text><tspan x="0" y="-3.200">E.g. Do we need to</tspan><tspan x="0" y="1.200">change our eligibility</tspan><tspan x="0" y="5.600">policy for X?</tspan></text></g>
<g transform="translate(524.700,1264.700)"><ellipse rx="23.700" ry="12.700"/><text><tspan x="0" y="-3.200">Do we need to draw</tspan><tspan x="0" y="1.200">the boundaries of our</tspan><tspan x="0" y="5.600">systems differently?</tspan></text></g>
</g>

<g id="focus-people"><rect x="344" y="1347.700" width="207.700" height="29" rx="6" class="box"/><use href="#ico1" x="360.700" y="1362.700"/>
<text x="461" y="1365" class="q q8">Focus of learning cycle questions:</text></g>
<g id="q-people-1"><rect x="359.300" y="1381.700" width="84" height="32.300" rx="5" class="box"/><text class="q q6"><tspan x="401.700" y="1390">Who are the actors in your</tspan><tspan x="401.700" y="1396">life as system that contribute</tspan><tspan x="401.700" y="1403">to the desired/problematic</tspan><tspan x="401.700" y="1410">outcomes?</tspan></text></g>
<g id="q-people-2"><rect x="448.700" y="1381.700" width="84" height="32.300" rx="5" class="box"/><text class="q q6"><tspan x="491" y="1396">What are the patterns</tspan><tspan x="491" y="1403">in that system?</tspan></text></g>
<g id="change-people"><rect x="289.300" y="1534.300" width="58.400" height="39" rx="5" class="box"/><text class="q q54"><tspan x="318.700" y="1544.700">What changes</tspan><tspan x="318.700" y="1551.700">need to happen as</tspan><tspan x="318.700" y="1558.700">a result of what</tspan><tspan x="318.700" y="1566">we've learnt?</tspan></text></g>
<g id="try-people"><rect x="344" y="1637.300" width="207.700" height="29" rx="6" class="box"/><use href="#ico2" x="360.700" y="1652"/><text x="457.700" y="1655" class="q q8">What can we try that creates new patterns?</text></g>
</svg>
